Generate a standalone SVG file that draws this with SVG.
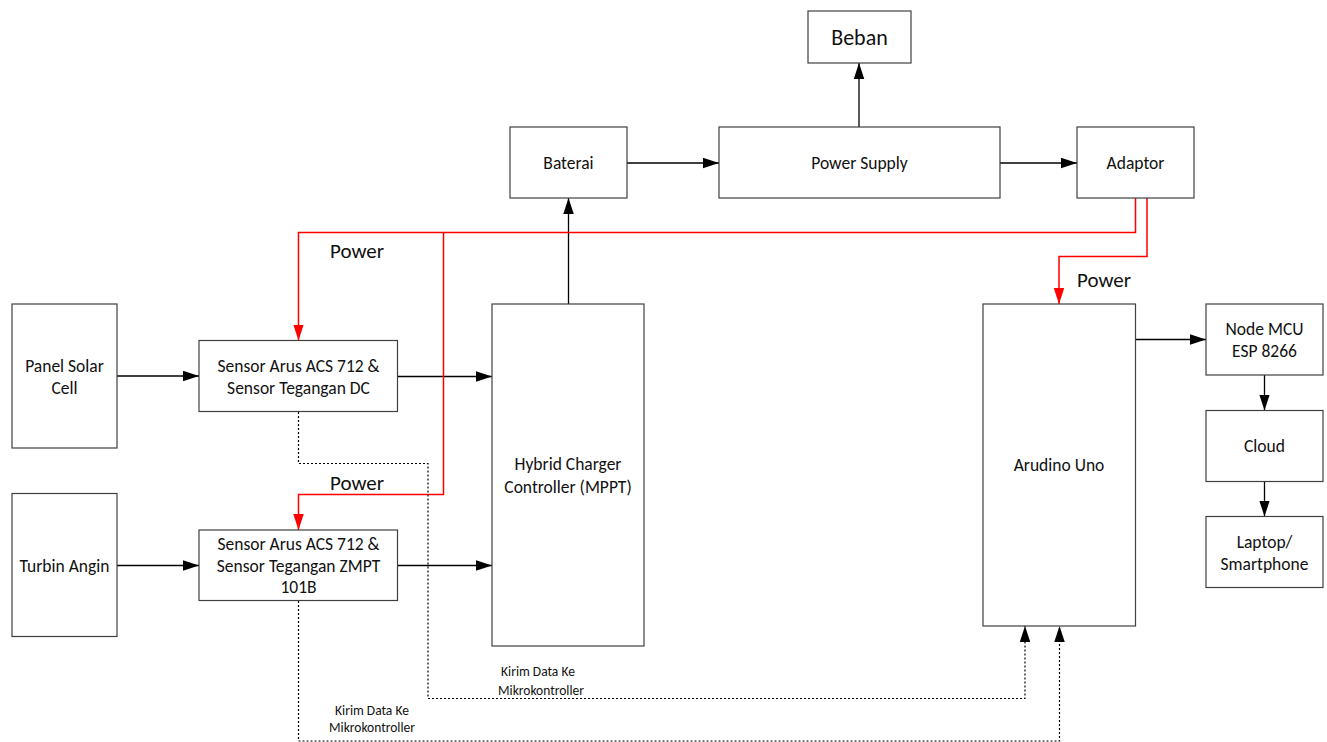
<svg xmlns="http://www.w3.org/2000/svg" width="1327" height="742" viewBox="0 0 1327 742">
<style>
.box{fill:#fff;stroke:#404040;stroke-width:1.2}
.t{font-family:Carlito,Lato,"Liberation Sans",sans-serif;font-size:17.5px;fill:#111;text-anchor:middle;dominant-baseline:central}
.pw{font-size:21px}
.sm{font-size:13.5px}
.c{fill:none;stroke:#000;stroke-width:1.3}
.r{fill:none;stroke:#f00;stroke-width:1.5}
.d{fill:none;stroke:#000;stroke-width:1.2;stroke-dasharray:2 2}
</style>
<defs>
<marker id="ab" markerWidth="17" markerHeight="12" refX="16" refY="5.25" orient="auto" markerUnits="userSpaceOnUse"><path d="M0,0 L16,5.25 L0,10.5 Z" fill="#000"/></marker>
<marker id="ar" markerWidth="17" markerHeight="12" refX="16" refY="5.25" orient="auto" markerUnits="userSpaceOnUse"><path d="M0,0 L16,5.25 L0,10.5 Z" fill="#f00"/></marker>
</defs>
<rect width="1327" height="742" fill="#fff"/>
<g id="connectors">
<path class="c" d="M859,127 V63" marker-end="url(#ab)"/>
<path class="c" d="M627,163 H719" marker-end="url(#ab)"/>
<path class="c" d="M1000,163 H1077" marker-end="url(#ab)"/>
<path class="c" d="M568.5,304 V198" marker-end="url(#ab)"/>
<path class="c" d="M117,376 H199" marker-end="url(#ab)"/>
<path class="c" d="M397.5,376.5 H492" marker-end="url(#ab)"/>
<path class="c" d="M117,565.5 H199" marker-end="url(#ab)"/>
<path class="c" d="M397.5,565.5 H492" marker-end="url(#ab)"/>
<path class="c" d="M1135.5,339.5 H1206" marker-end="url(#ab)"/>
<path class="c" d="M1264.5,375 V410.5" marker-end="url(#ab)"/>
<path class="c" d="M1264.5,481.5 V516.5" marker-end="url(#ab)"/>
<path class="r" d="M1135.5,198 V232.5 H298.5 V340.5" marker-end="url(#ar)"/>
<path class="r" d="M443.5,232.5 V494.5 H298.5 V530" marker-end="url(#ar)"/>
<path class="r" d="M1147,198 V256.5 H1059 V304" marker-end="url(#ar)"/>
<path class="d" d="M298.5,412 V463.5 H428 V698.5 H1025 V626" marker-end="url(#ab)"/>
<path class="d" d="M298.5,601 V741 H1059.5 V626" marker-end="url(#ab)"/>
<text class="t pw" x="357" y="250.5">Power</text>
<text class="t pw" x="357" y="482.5">Power</text>
<text class="t pw" x="1104" y="280">Power</text>
<text class="t sm" x="538" y="671.5">Kirim Data Ke</text>
<text class="t sm" x="541" y="690">Mikrokontroller</text>
<text class="t sm" x="372" y="710">Kirim Data Ke</text>
<text class="t sm" x="372" y="727">Mikrokontroller</text>
</g>
<g id="beban"><rect class="box" x="808" y="11" width="103" height="52"/><text class="t" style="font-size:22px" x="859.5" y="37">Beban</text></g>
<g id="baterai"><rect class="box" x="510" y="127" width="117" height="71"/><text class="t" x="568.5" y="162.5">Baterai</text></g>
<g id="power-supply"><rect class="box" x="719" y="127" width="281" height="71"/><text class="t" x="859.5" y="162.5">Power Supply</text></g>
<g id="adaptor"><rect class="box" x="1077" y="127" width="117" height="71"/><text class="t" x="1135.5" y="162.5">Adaptor</text></g>
<g id="panel-solar"><rect class="box" x="12" y="304" width="105" height="144"/><text class="t" x="64.5" y="365.5">Panel Solar</text><text class="t" x="64.5" y="387.5">Cell</text></g>
<g id="sensor-dc"><rect class="box" x="199" y="340.5" width="198.5" height="71"/><text class="t" x="298.5" y="365.5">Sensor Arus ACS 712 &amp;</text><text class="t" x="298.5" y="387.5">Sensor Tegangan DC</text></g>
<g id="turbin-angin"><rect class="box" x="12" y="493.5" width="105" height="143"/><text class="t" x="64.5" y="565.5">Turbin Angin</text></g>
<g id="sensor-zmpt"><rect class="box" x="199" y="530" width="198.5" height="70.5"/><text class="t" x="298.5" y="544">Sensor Arus ACS 712 &amp;</text><text class="t" x="298.5" y="565.5">Sensor Tegangan ZMPT</text><text class="t" x="298.5" y="587">101B</text></g>
<g id="hybrid-charger"><rect class="box" x="492" y="304" width="152" height="342"/><text class="t" x="568" y="464">Hybrid Charger</text><text class="t" x="568" y="486.5">Controller (MPPT)</text></g>
<g id="arduino"><rect class="box" x="983" y="304" width="152.5" height="322"/><text class="t" x="1059" y="465">Arudino Uno</text></g>
<g id="nodemcu"><rect class="box" x="1206" y="304" width="117" height="71"/><text class="t" x="1264.5" y="328.5">Node MCU</text><text class="t" x="1264.5" y="350.5">ESP 8266</text></g>
<g id="cloud"><rect class="box" x="1206" y="410.5" width="117" height="71"/><text class="t" x="1264.5" y="446">Cloud</text></g>
<g id="laptop"><rect class="box" x="1206" y="516.5" width="117" height="71"/><text class="t" x="1264.5" y="541.5">Laptop/</text><text class="t" x="1264.5" y="564">Smartphone</text></g>
</svg>
